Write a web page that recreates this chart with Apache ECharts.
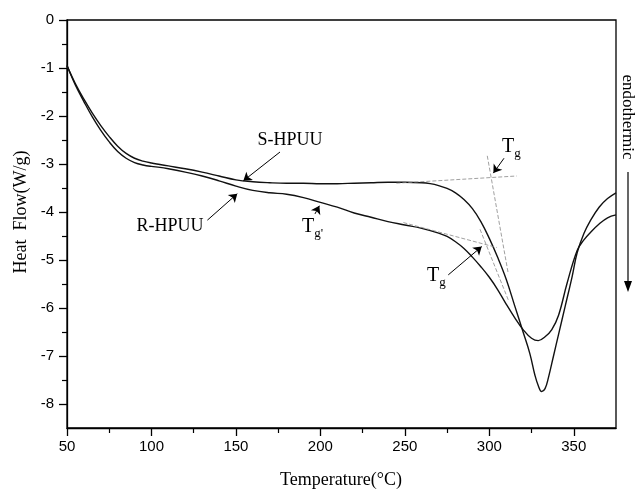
<!DOCTYPE html>
<html><head><meta charset="utf-8">
<script src="https://cdn.jsdelivr.net/npm/echarts@6/dist/echarts.min.js"></script>
<style>html,body{margin:0;padding:0;background:#fff}#c{width:635px;height:489px}</style>
</head><body><div id="c"></div>
<script>
// ---- data ----
const sTemp = [50,55,60,65,70,75,80,85,90,95,100,105,110,120,130,140,150,160,170,180,190,200,210,220,230,240,250,260,265,270,275,280,285,290,295,300,305,310,315,320,324,327,329,331,333,335,338,341,345,349,352,356,360,365,370,375];
const sHeat = [-0.95,-1.33,-1.65,-1.94,-2.2,-2.43,-2.63,-2.78,-2.88,-2.94,-2.98,-3.01,-3.04,-3.1,-3.17,-3.25,-3.33,-3.37,-3.39,-3.40,-3.40,-3.41,-3.41,-3.40,-3.39,-3.38,-3.38,-3.39,-3.41,-3.45,-3.51,-3.60,-3.74,-3.93,-4.2,-4.55,-4.95,-5.4,-5.95,-6.5,-6.95,-7.4,-7.62,-7.74,-7.68,-7.45,-7.0,-6.55,-5.95,-5.35,-4.85,-4.45,-4.17,-3.9,-3.72,-3.6];
const rTemp = [50,55,60,65,70,75,80,85,90,95,100,105,110,120,130,140,150,160,170,180,190,200,210,220,230,240,250,260,270,275,280,285,290,295,300,305,310,315,320,325,329,333,337,341,346,352,356,360,365,370,375];
const rHeat = [-0.95,-1.36,-1.70,-2.02,-2.3,-2.54,-2.74,-2.88,-2.97,-3.02,-3.05,-3.07,-3.10,-3.17,-3.25,-3.35,-3.46,-3.55,-3.6,-3.63,-3.70,-3.80,-3.9,-4.02,-4.11,-4.20,-4.27,-4.34,-4.44,-4.51,-4.62,-4.76,-4.94,-5.14,-5.36,-5.62,-5.92,-6.2,-6.45,-6.63,-6.68,-6.6,-6.45,-6.15,-5.49,-4.8,-4.58,-4.42,-4.25,-4.12,-4.06];
const xMajor = [50,100,150,200,250,300,350];
const xMinor = [75,125,175,225,275,325];
const yMajor = [0,-1,-2,-3,-4,-5,-6,-7,-8];
const yMinor = [-0.5,-1.5,-2.5,-3.5,-4.5,-5.5,-6.5,-7.5];
// tangent construction lines [[T1,v1],[T2,v2]]
const tangents = [
  [[245,-3.40],[316.2,-3.25]],
  [[298.8,-2.83],[311.2,-5.28]],
  [[249.1,-4.22],[304.4,-4.74]],
  [[294.5,-4.36],[311.2,-5.83]]
];
// annotation arrows [[from],[to]]
const arrows = [
  [[176.1,-2.75],[154.4,-3.35]],
  [[133.1,-4.17],[150.8,-3.62]],
  [[196.8,-4.04],[199.4,-3.87]],
  [[308.7,-2.88],[302.4,-3.19]],
  [[275.7,-5.31],[295.5,-4.72]]
];

const zip = (a,b)=>a.map((x,i)=>[x,b[i]]);
const chart = echarts.init(document.getElementById('c'), null, {renderer:'canvas'});
const tickFont = {fontFamily:'Liberation Sans', fontSize:15, color:'#000'};
const serif = 'Liberation Serif';
const tg = (sub)=>({
  type:'text',
  style:{
    rich:{T:{fontFamily:serif,fontSize:20,fill:'#000'},g:{fontFamily:serif,fontSize:13,fill:'#000',padding:[14,0,0,0]}},
    text:'{T|T}{g|'+sub+'}'
  }
});
const option = {
  animation:false,
  grid:{left:67,right:19,top:20,bottom:61,show:true,borderColor:'#000',borderWidth:1.3,backgroundColor:'transparent'},
  xAxis:[
    {type:'value',min:50,max:375,interval:50,position:'bottom',
     axisLine:{show:true,onZero:false,lineStyle:{color:'#000',width:1.3}},
     axisTick:{show:true,length:8,customValues:xMajor,lineStyle:{color:'#000',width:1.3}},
     axisLabel:{customValues:xMajor,margin:11,...tickFont},
     splitLine:{show:false}},
    {type:'value',min:50,max:375,interval:25,position:'bottom',
     axisLine:{show:false,onZero:false},
     axisTick:{show:true,length:5,customValues:xMinor,lineStyle:{color:'#000',width:1.2}},
     axisLabel:{show:false},splitLine:{show:false}}
  ],
  yAxis:[
    {type:'value',min:-8.5,max:0,interval:0.5,position:'left',
     axisLine:{show:true,onZero:false,lineStyle:{color:'#000',width:1.3}},
     axisTick:{show:true,length:8,customValues:yMajor,lineStyle:{color:'#000',width:1.3}},
     axisLabel:{customValues:yMajor,margin:13,...tickFont},
     splitLine:{show:false}},
    {type:'value',min:-8.5,max:0,interval:0.5,position:'left',
     axisLine:{show:false,onZero:false},
     axisTick:{show:true,length:5,customValues:yMinor,lineStyle:{color:'#000',width:1.2}},
     axisLabel:{show:false},splitLine:{show:false}}
  ],
  series:[
    {name:'S-HPUU',type:'line',data:zip(sTemp,sHeat),smooth:0.4,symbol:'none',
     lineStyle:{color:'#111',width:1.4},
     markLine:{silent:true,symbol:'none',label:{show:false},
       lineStyle:{color:'#888',width:0.8,type:[4,2]},
       data:tangents.map(t=>[{coord:t[0]},{coord:t[1]}])}},
    {name:'R-HPUU',type:'line',data:zip(rTemp,rHeat),smooth:0.4,symbol:'none',
     lineStyle:{color:'#111',width:1.4},
     markLine:{silent:true,symbol:['none','arrow'],symbolSize:8,label:{show:false},
       lineStyle:{color:'#000',width:1,type:'solid'},
       data:arrows.map(t=>[{coord:t[0],symbol:'none'},{coord:t[1],symbol:'arrow',symbolSize:8}])}}
  ],
  graphic:[
    {type:'text',x:21,y:212,rotation:Math.PI/2,style:{text:'Heat  Flow(W/g)',fontFamily:serif,fontSize:18,fill:'#000',align:'center',verticalAlign:'middle'}},
    {type:'text',x:341,y:480,style:{text:'Temperature(°C)',fontFamily:serif,fontSize:18,fill:'#000',align:'center',verticalAlign:'middle'}},
    {type:'text',x:290,y:140,style:{text:'S-HPUU',fontFamily:serif,fontSize:18,fill:'#000',align:'center',verticalAlign:'middle'}},
    {type:'text',x:170,y:226,style:{text:'R-HPUU',fontFamily:serif,fontSize:18,fill:'#000',align:'center',verticalAlign:'middle'}},
    Object.assign(tg("g'"),{x:302,y:213}),
    Object.assign(tg('g'),{x:502,y:133}),
    Object.assign(tg('g'),{x:427,y:262}),
    {type:'text',x:627,y:117,rotation:-Math.PI/2,style:{text:'endothermic',fontFamily:serif,fontSize:17,fill:'#000',align:'center',verticalAlign:'middle'}},
    {type:'line',shape:{x1:628,y1:172,x2:628,y2:283},style:{stroke:'#000',lineWidth:1.2}},
    {type:'polygon',shape:{points:[[624,281],[632,281],[628,292]]},style:{fill:'#000'}}
  ]
};
chart.setOption(option);
</script>
</body></html>
